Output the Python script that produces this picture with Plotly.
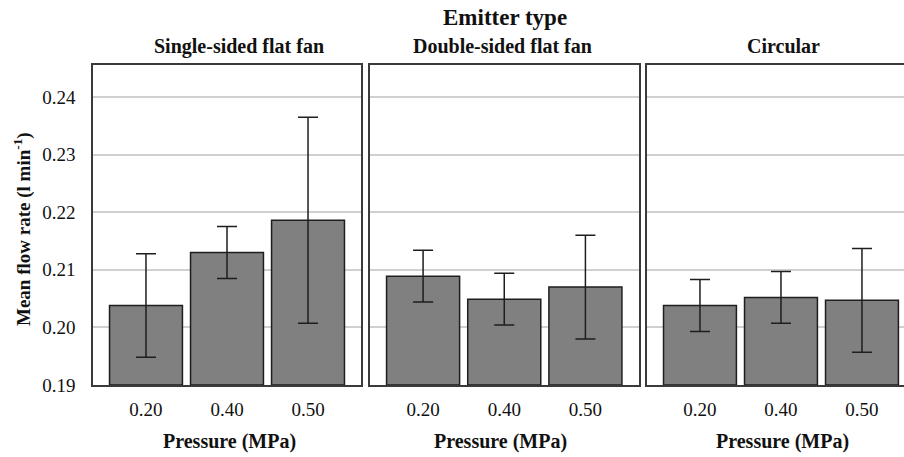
import plotly.graph_objects as go

pressures = ["0.20", "0.40", "0.50"]
emitters = ["Single-sided flat fan", "Double-sided flat fan", "Circular"]
means = [
    [0.2038, 0.2130, 0.2186],
    [0.2089, 0.2049, 0.2070],
    [0.2038, 0.2052, 0.2047],
]
errors = [
    [0.0090, 0.0045, 0.0179],
    [0.0045, 0.0045, 0.0090],
    [0.0045, 0.0045, 0.0090],
]
y_ticks = [0.19, 0.20, 0.21, 0.22, 0.23, 0.24]
y_tick_text = ["0.19", "0.20", "0.21", "0.22", "0.23", "0.24"]

W, H = 904, 457
ML, MR, MT, MB = 93, 0, 65, 72
PW = W - ML - MR
PH = H - MT - MB

def px_x(p):
    return (p - ML) / PW

def px_y(p):
    return (H - MB - p) / PH

FONT = "'Times New Roman', 'Liberation Serif', serif"
domains = [[px_x(93), px_x(361)], [px_x(370), px_x(638.5)], [px_x(647), 1.0]]
xranges = [[-0.654, 2.654], [-0.654, 2.654], [-0.654, -0.654 + 257 / 81]]

fig = go.Figure()
xpos = list(range(len(pressures)))
for i, name in enumerate(emitters):
    sfx = "" if i == 0 else str(i + 1)
    fig.add_trace(go.Bar(
        x=xpos, y=[m - 0.19 for m in means[i]], base=0.19,
        width=0.9,
        marker=dict(color="#808080", line=dict(color="#1e1e1e", width=1.5)),
        error_y=dict(type="data", array=errors[i], visible=True,
                     color="#1e1e1e", thickness=1.5, width=10),
        xaxis="x" + sfx, yaxis="y" + sfx, showlegend=False, name=name,
    ))

layout = dict(
    width=W, height=H,
    margin=dict(l=ML, r=MR, t=MT, b=MB, pad=0),
    paper_bgcolor="white", plot_bgcolor="white",
    font=dict(family=FONT, size=19, color="#111"),
    bargap=0.1,
)
for i in range(3):
    sfx = "" if i == 0 else str(i + 1)
    layout["xaxis" + sfx] = dict(
        domain=domains[i], range=xranges[i], anchor="y" + sfx,
        tickvals=xpos, ticktext=pressures, showgrid=False, zeroline=False,
        showline=True, mirror=True, linecolor="#3a3a3a", linewidth=1.5,
        ticks="outside", ticklen=6, tickcolor="rgba(0,0,0,0)",
        tickfont=dict(family=FONT, size=19, color="#111"),
        fixedrange=True,
    )
    layout["yaxis" + sfx] = dict(
        domain=[0, 1], range=[0.19, 0.19 + PH / 5760], anchor="x" + sfx,
        tickvals=y_ticks, ticktext=y_tick_text, showticklabels=(i == 0),
        showgrid=True, gridcolor="#d0d0d0", gridwidth=1.5, zeroline=False,
        showline=True, mirror=(i < 2), linecolor="#3a3a3a", linewidth=1.5,
        ticks="outside" if i == 0 else "", ticklen=12, tickcolor="rgba(0,0,0,0)",
        tickfont=dict(family=FONT, size=19, color="#111"),
        fixedrange=True,
    )
fig.update_layout(**layout)

def note(text, x, y, size, angle=0):
    return dict(text=text, x=px_x(x), y=px_y(y), xref="paper", yref="paper",
                xanchor="center", yanchor="middle", showarrow=False,
                textangle=angle, font=dict(family=FONT, size=size, color="#111"))

ann = [note("<b>Emitter type</b>", 505, 18, 23)]
title_x = [239, 502, 783]
for i, name in enumerate(emitters):
    ann.append(note("<b>%s</b>" % name, title_x[i], 46, 20))
xt_x = [229, 500, 782]
for i in range(3):
    ann.append(note("<b>Pressure (MPa)</b>", xt_x[i], 441, 20))
ann.append(note("<b>Mean flow rate (l min<sup>-1</sup>)</b>", 22, 229, 19, -90))
fig.update_layout(annotations=ann)

fig.write_html("out.html")
